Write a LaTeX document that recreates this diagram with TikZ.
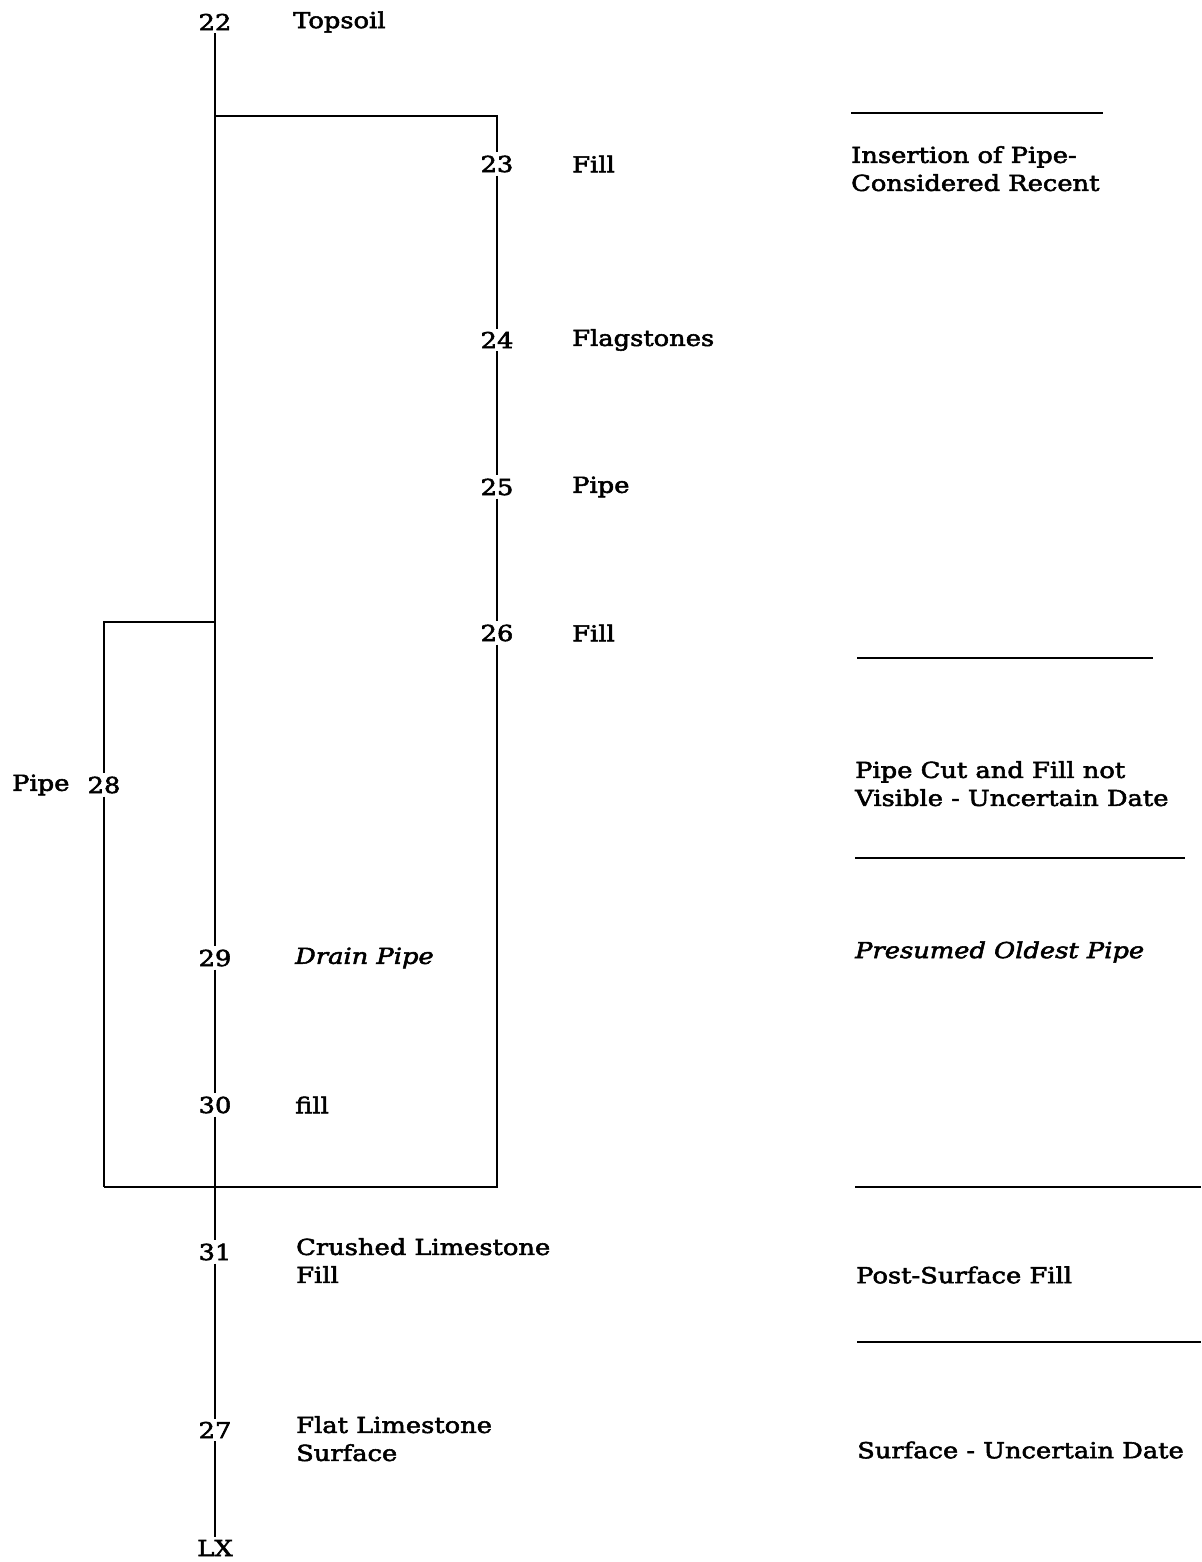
\documentclass[tikz,border=0pt]{standalone}
\usepackage{fontspec}
\setmainfont{DejaVu Serif}[FakeStretch=1.17, FakeBold=2.5]
\usepackage{tikz}
\usetikzlibrary{positioning, calc}

\tikzset{
    num/.style={inner sep=3pt, font=\fontsize{22}{28}\selectfont},
    lbl/.style={anchor=west, inner sep=0pt, align=left, font=\fontsize{22}{28}\selectfont},
    link/.style={line width=2pt}
}

\begin{document}
\begin{tikzpicture}[x=1pt, y=-1pt]
        \useasboundingbox (0,0) rectangle (1201,1562);

        % context numbers
        \node[num] (n22) at (215, 22) {22};
        \node[num] (n23) at (497, 164) {23};
        \node[num] (n24) at (497, 340) {24};
        \node[num] (n25) at (497, 487) {25};
        \node[num] (n26) at (497, 633) {26};
        \node[num] (n28) at (104, 785) {28};
        \node[num] (n29) at (215, 958) {29};
        \node[num] (n30) at (215, 1105) {30};
        \node[num] (n31) at (215, 1252) {31};
        \node[num] (n27) at (215, 1430) {27};
        \node[num] (nLX) at (215, 1548) {LX};

        % descriptions
        \node[lbl] (t22) at (293, 22) {Topsoil};
        \node[lbl] (t23) at (572, 164) {Fill};
        \node[lbl] (t24) at (572, 340) {Flagstones};
        \node[lbl] (t25) at (572, 487) {Pipe};
        \node[lbl] (t26) at (572, 633) {Fill};
        \node[lbl] (t28) at (12, 785) {Pipe};
        \node[lbl] (t29) at (295, 958) {\itshape Drain Pipe};
        \node[lbl] (t30) at (295, 1105) {fill};
        \node[lbl, anchor=north west] (t31) at (296, 1238) {Crushed Limestone\\Fill};
        \node[lbl, anchor=north west] (t27) at (296, 1416) {Flat Limestone\\Surface};

        % phases
        \node[lbl, anchor=north west] (p1) at (851, 146) {Insertion of Pipe-\\Considered Recent};
        \node[lbl, anchor=north west] (p2) at (855, 761) {Pipe Cut and Fill not\\Visible - Uncertain Date};
        \node[lbl] (p3) at (855, 952) {\itshape Presumed Oldest Pipe};
        \node[lbl] (p4) at (856, 1275) {Post-Surface Fill};
        \node[lbl] (p5) at (857, 1450) {Surface - Uncertain Date};

        \draw[link] (851, 113) -- (1103, 113);
        \draw[link] (857, 658) -- (1153, 658);
        \draw[link] (855, 858) -- (1185, 858);
        \draw[link] (855, 1187) -- (1201, 1187);
        \draw[link] (857, 1342) -- (1201, 1342);

        % matrix
        \coordinate (b23) at (215, 116);
        \coordinate (b28) at (215, 622);
        \coordinate (jl) at (104, 1187);

        \draw[link] (n22) -- (n29);
        \draw[link] (b23) -| (n23);
        \draw[link] (n23) -- (n24);
        \draw[link] (n24) -- (n25);
        \draw[link] (n25) -- (n26);
        \draw[link] (n26) |- (jl);
        \draw[link] (b28) -| (n28);
        \draw[link] (n28) -- (jl);
        \draw[link] (n29) -- (n30);
        \draw[link] (n30) -- (n31);
        \draw[link] (n31) -- (n27);
        \draw[link] (n27) -- (nLX);
    \end{tikzpicture}
\end{document}
